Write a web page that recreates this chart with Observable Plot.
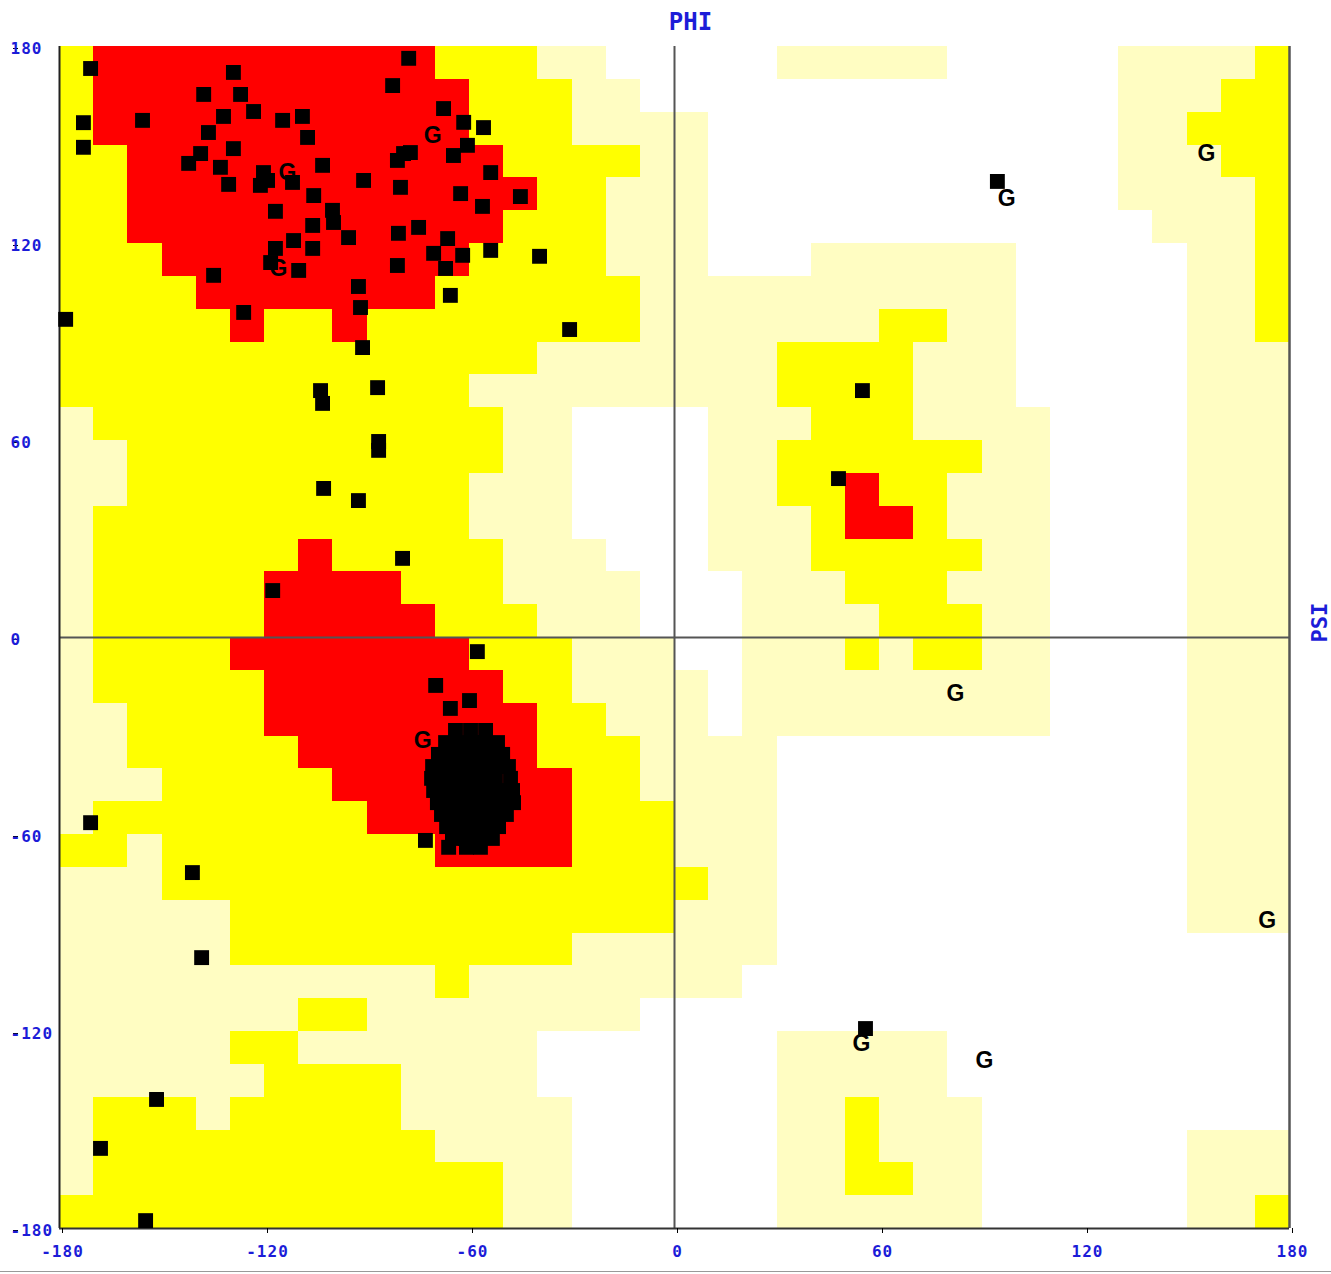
<!DOCTYPE html>
<html><head><meta charset="utf-8">
<script src="https://cdn.jsdelivr.net/npm/d3@7"></script>
<script src="https://cdn.jsdelivr.net/npm/@observablehq/plot@0.6"></script>
<style>
body{margin:0;background:#fff;}
#chart{position:relative;width:1331px;height:1274px;}
#chart .bottomline{position:absolute;left:0;top:1271px;width:1331px;height:1px;background:#999;}
#chart svg g[aria-label="x-axis tick label"], #chart svg g[aria-label="y-axis tick label"]{
  font-family:"DejaVu Sans Mono",monospace;font-weight:bold;font-size:16px;letter-spacing:1px;fill:#1c1cd8;
}
</style></head><body><div id="chart"><div class="bottomline"></div></div>
<script>
// Region map: 36 rows (psi 180 -> -180, 10 deg each) x 36 cols (phi -180 -> 180)
// R = core (red), Y = allowed (yellow), L = generous (light yellow), W = disallowed
const regionRows = [
"YRRRRRRRRRRYYYLLWWWWWLLLLLWWWWWLLLLY",
"YRRRRRRRRRRRYYYLLWWWWWWWWWWWWWWLLLYY",
"YRRRRRRRRRRRYYYLLLLWWWWWWWWWWWWLLYYY",
"YYRRRRRRRRRRRYYYYLLWWWWWWWWWWWWLLLYY",
"YYRRRRRRRRRRRRYYLLLWWWWWWWWWWWWLLLLY",
"YYRRRRRRRRRRRYYYLLLWWWWWWWWWWWWWLLLY",
"YYYRRRRRRRRRYYYYLLLWWWLLLLLLWWWWWLLY",
"YYYYRRRRRRRYYYYYYLLLLLLLLLLLWWWWWLLY",
"YYYYYRYYRYYYYYYYYLLLLLLLYYLLWWWWWLLY",
"YYYYYYYYYYYYYYLLLLLLLYYYYLLLWWWWWLLL",
"YYYYYYYYYYYYLLLLLLLLLYYYYLLLWWWWWLLL",
"LYYYYYYYYYYYYLLWWWWLLLYYYLLLLWWWWLLL",
"LLYYYYYYYYYYYLLWWWWLLYYYYYYLLWWWWLLL",
"LLYYYYYYYYYYLLLWWWWLLYYRYYLLLWWWWLLL",
"LYYYYYYYYYYYLLLWWWWLLLYRRYLLLWWWWLLL",
"LYYYYYYRYYYYYLLLWWWLLLYYYYYLLWWWWLLL",
"LYYYYYRRRRYYYLLLLWWWLLLYYYLLLWWWWLLL",
"LYYYYYRRRRRYYYLLLWWWLLLLYYYLLWWWWLLL",
"LYYYYRRRRRRRYYYLLLWWLLLYLYYLLWWWWLLL",
"LYYYYYRRRRRRRYYLLLLWLLLLLLLLLWWWWLLL",
"LLYYYYRRRRRRRRYYLLLWLLLLLLLLLWWWWLLL",
"LLYYYYYRRRRRRRYYYLLLLWWWWWWWWWWWWLLL",
"LLLYYYYYRRRRRRRYYLLLLWWWWWWWWWWWWLLL",
"LYYYYYYYYRRRRRRYYYLLLWWWWWWWWWWWWLLL",
"YYLYYYYYYYYRRRRYYYLLLWWWWWWWWWWWWLLL",
"LLLYYYYYYYYYYYYYYYYLLWWWWWWWWWWWWLLL",
"LLLLLYYYYYYYYYYYYYLLLWWWWWWWWWWWWLLL",
"LLLLLYYYYYYYYYYLLLLLLWWWWWWWWWWWWWWW",
"LLLLLLLLLLLYLLLLLLLLWWWWWWWWWWWWWWWW",
"LLLLLLLYYLLLLLLLLWWWWWWWWWWWWWWWWWWW",
"LLLLLYYLLLLLLLWWWWWWWLLLLLWWWWWWWWWW",
"LLLLLLYYYYLLLLWWWWWWWLLLLLWWWWWWWWWW",
"LYYYLYYYYYLLLLLWWWWWWLLYLLLWWWWWWWWW",
"LYYYYYYYYYYLLLLWWWWWWLLYLLLWWWWWWLLL",
"LYYYYYYYYYYYYLLWWWWWWLLYYLLWWWWWWLLL",
"YYYYYYYYYYYYYLLWWWWWWLLLLLLWWWWWWLLY"
];
const regionColors = {R:"#ff0000", Y:"#ffff00", L:"#fffdc2", W:"#ffffff"};

// Residues (non-glycine), phi / psi in degrees
const residuePhi = [
-170.9,-173.0,-173.0,-178.2,-155.7,-129.1,-137.8,-127.0,-123.2,-132.0,-136.4,-129.1,-138.7,-142.2,-132.9,-130.5,-121.2,-120.3,-119.1,-114.7,
-108.9,-107.4,-103.0,-111.8,-116.8,-105.6,-100.1,-99.8,-105.9,-95.4,-105.9,-111.5,-116.8,-118.2,-110.0,-134.9,-126.1,-91.0,-92.5,-91.9,
-91.3,-86.9,-103.6,-103.0,-82.5,-77.8,-81.1,-79.3,-77.3,-80.2,-80.8,-74.9,-81.1,-67.6,-64.7,-62.6,-66.4,-70.5,-62.0,-67.0,
-65.6,-61.7,-55.9,-60.6,-53.8,-56.2,-45.1,-53.8,-39.5,-30.7,
-86.6,-86.6,-102.7,-92.5,-79.6,-117.6,-57.7,-69.9,-65.6,-60.0,-170.9,-72.9,
-141.1,-138.4,-151.6,-168.0,-154.8,
55.0,48.0,94.5,55.9,
-64.1,-59.7,-55.3,
-67.0,-63.2,-59.4,-55.6,-51.8,
-69.1,-65.6,-61.8,-57.9,-54.1,-50.3,
-70.8,-67.3,-63.5,-59.7,-55.9,-52.1,-48.6,
-71.1,-67.6,-63.8,-60.0,-56.2,-52.4,-48.0,
-70.5,-66.7,-62.9,-59.1,-55.3,-51.5,-47.4,
-69.4,-65.6,-61.8,-57.9,-54.1,-50.3,-47.1,
-68.2,-64.4,-60.6,-56.8,-53.0,-49.2,
-66.7,-62.9,-59.1,-55.3,-51.5,
-65.0,-61.2,-57.4,-53.3,
-66.1,-60.9,-56.8
];
const residuePsi = [
173.3,156.8,149.3,96.9,157.5,172.1,165.4,165.4,160.2,158.7,153.8,148.9,147.4,144.4,143.2,138.0,137.7,141.6,139.2,157.5,
158.7,152.3,143.8,138.6,129.8,134.6,130.1,126.4,125.5,121.8,118.5,120.9,118.5,114.2,111.8,110.3,99.0,139.2,106.9,100.5,
88.3,76.1,75.2,71.3,168.1,176.4,145.3,147.4,147.7,137.1,123.1,124.9,113.3,161.1,146.8,135.2,121.5,117.0,116.4,112.4,
104.2,156.9,155.3,149.9,141.6,131.3,134.3,117.9,116.1,93.8,
59.7,57.0,45.4,41.7,24.1,14.3,-4.3,-14.6,-21.6,-19.2,-56.4,-61.8,
-71.6,-97.5,-140.7,-155.6,-177.6,
75.2,48.4,138.9,-119.1,
-28.3,-28.3,-28.3,
-32.0,-32.0,-32.0,-32.0,-32.0,
-35.6,-35.6,-35.6,-35.6,-35.6,-35.6,
-39.3,-39.3,-39.3,-39.3,-39.3,-39.3,-39.3,
-42.9,-42.9,-42.9,-42.9,-42.9,-42.9,-42.9,
-46.6,-46.6,-46.6,-46.6,-46.6,-46.6,-46.6,
-50.3,-50.3,-50.3,-50.3,-50.3,-50.3,-50.3,
-53.9,-53.9,-53.9,-53.9,-53.9,-53.9,
-57.6,-57.6,-57.6,-57.6,-57.6,
-61.2,-61.2,-61.2,-61.2,
-63.9,-63.9,-63.9
];

// Glycines (labelled "G")
const glyPhi = [-70.8,-113.3,-115.9,-73.7,97.2,155.7,82.2,173.5,54.7,90.7];
const glyPsi = [152.9,141.6,112.4,-31.4,133.7,147.4,-17.1,-86.2,-123.7,-128.8];

const tickValues = [-180,-120,-60,0,60,120,180];
const xTitle = "PHI";
const yTitle = "PSI";

const cells = [];
regionRows.forEach((row, j) => {
  for (let i = 0; i < row.length; i++) {
    const code = row[i];
    if (code === "W") continue;
    cells.push({phi1: -180 + 10 * i, phi2: -170 + 10 * i, psi1: 170 - 10 * j, psi2: 180 - 10 * j, code});
  }
});
const residues = residuePhi.map((phi, k) => ({phi, psi: residuePsi[k]}));
const glycines = glyPhi.map((phi, k) => ({phi, psi: glyPsi[k]}));

const chart = Plot.plot({
  width: 1331, height: 1274,
  marginLeft: 59, marginRight: 42, marginTop: 46, marginBottom: 46,
  x: {domain: [-180, 180]},
  y: {domain: [-180, 180]},
  style: {background: "#fff"},
  marks: [
    Plot.rect(cells, {x1: "phi1", x2: "phi2", y1: "psi1", y2: "psi2", fill: d => regionColors[d.code], shapeRendering: "crispEdges"}),
    Plot.ruleX([0], {stroke: "#555", strokeWidth: 2}),
    Plot.ruleY([0], {stroke: "#555", strokeWidth: 2}),
    Plot.ruleX([-180], {stroke: "#222", strokeWidth: 2}),
    Plot.ruleX([180], {stroke: "#555", strokeWidth: 2.5}),
    Plot.ruleY([-180], {stroke: "#333", strokeWidth: 2}),
    Plot.axisX({ticks: tickValues, tickSize: 5, tickPadding: 12, dx: 3, tickFormat: d => `${d}`, label: null}),
    Plot.axisY({ticks: tickValues, tickSize: 5, tickPadding: 3, textAnchor: "start", dx: -41, dy: 2, tickFormat: d => `${d}`, label: null}),
    Plot.text(glycines, {x: "phi", y: "psi", text: () => "G", fontFamily: "Liberation Sans", fontWeight: "bold", fontSize: 23, fill: "#000"}),
    Plot.dot(residues, {x: "phi", y: "psi", symbol: "square", r: 8.4, fill: "#000", stroke: null}),
    Plot.text([xTitle], {frameAnchor: "top", lineAnchor: "middle", textAnchor: "middle", dy: -24, dx: 16, fontFamily: "DejaVu Sans Mono", fontWeight: "bold", fontSize: 24, fill: "#1c1cd8"}),
    Plot.text([yTitle], {frameAnchor: "right", lineAnchor: "middle", textAnchor: "middle", rotate: -90, dx: 30, dy: -15, fontFamily: "DejaVu Sans Mono", fontWeight: "bold", fontSize: 22, fill: "#1c1cd8"})
  ]
});
document.getElementById("chart").appendChild(chart);
</script>
</body></html>
